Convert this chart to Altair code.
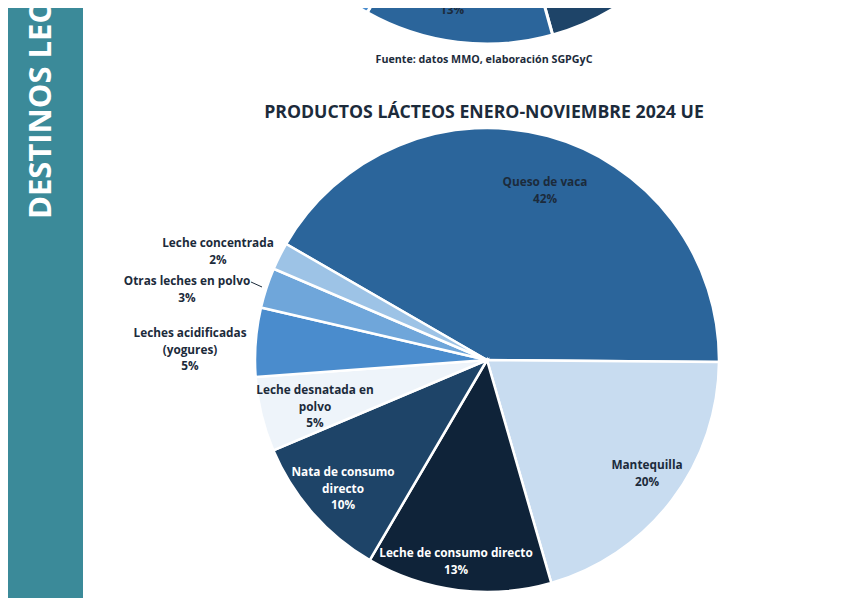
import math
import altair as alt
import pandas as pd

# ---------------- data ----------------
categories = [
    "Queso de vaca", "Mantequilla", "Leche de consumo directo",
    "Nata de consumo directo", "Leche desnatada en polvo",
    "Leches acidificadas (yogures)", "Otras leches en polvo", "Leche concentrada",
]
shares = [41.8, 20.4, 12.9, 10.2, 5.2, 4.8, 2.8, 1.9]
pct_labels = ["42%", "20%", "13%", "10%", "5%", "5%", "3%", "2%"]
label_text = [
    "Queso de vaca", "Mantequilla", "Leche de consumo directo",
    "Nata de consumo\ndirecto", "Leche desnatada en\npolvo",
    "Leches acidificadas\n(yogures)", "Otras leches en polvo", "Leche concentrada",
]

# partially visible pie from the previous chart (top of page)
top_slices = ["a", "b", "c"]
top_shares = [10.0, 12.5, 6.0]
top_pct = ["", "13%", ""]

title_text = "PRODUCTOS LÁCTEOS ENERO-NOVIEMBRE 2024 UE"
source_text = "Fuente: datos MMO, elaboración SGPGyC"
side_text = "DESTINOS LECHE"

# ---------------- styles / layout ----------------
W, H = 842, 590
FONT = "Open Sans"
DARK = "#1c2b3b"
TEAL = "#3b8a99"
slice_colors = ["#2b659b", "#c8dcf0", "#0f2339", "#1e4468",
                "#eef4fa", "#4a8ccd", "#6fa6da", "#9dc3e6"]
text_colors = [DARK, DARK, "white", "white", DARK, DARK, DARK, DARK]
top_colors = ["#1e4468", "#2b659b", "#4a8ccd"]

# label anchor positions (chart pixels, centre of first line)
label_pos = [(537, 174), (639, 457), (448, 545), (335, 464),
             (307, 382), (182, 325), (179, 273), (210, 235)]

CX, CY, R = 479, 352, 232
START_DEG = 300.0
TOP_CX, TOP_CY, TOP_R = 479, -208, 244
TOP_START_DEG = 128.4

pie_df = pd.DataFrame({
    "cat": categories, "share": shares, "idx": list(range(len(categories))),
    "col": slice_colors,
})
lab_df = pd.DataFrame({
    "txt": [f"{t}\n{p}" for t, p in zip(label_text, pct_labels)],
    "lx": [p[0] for p in label_pos],
    "ly": [p[1] for p in label_pos],
    "tc": text_colors,
})
top_df = pd.DataFrame({"cat": top_slices, "share": top_shares,
                       "idx": list(range(len(top_slices))), "col": top_colors})

def rad(d):
    return d * math.pi / 180.0

# ---------------- layers ----------------
band = alt.Chart(pd.DataFrame({"k": [0]})).mark_rect(color=TEAL).encode(
    x=alt.value(0), x2=alt.value(75), y=alt.value(-10), y2=alt.value(H + 10)
)
side = alt.Chart(pd.DataFrame({"t": [side_text]})).mark_text(
    font=FONT, fontSize=31, fontWeight="bold", color="white",
    angle=270, align="left", baseline="middle",
).encode(text="t:N", x=alt.value(34), y=alt.value(211))

top_pie = alt.Chart(top_df).mark_arc(
    outerRadius=TOP_R, stroke="white", strokeWidth=3
).encode(
    theta=alt.Theta("share:Q", stack=True,
                    scale=alt.Scale(domain=[0, 100],
                                    range=[rad(TOP_START_DEG), rad(TOP_START_DEG) + 2 * math.pi])),
    color=alt.Color("col:N", scale=None),
    order=alt.Order("idx:Q"),
    x=alt.value(TOP_CX), y=alt.value(TOP_CY),
)
top_lab = alt.Chart(pd.DataFrame({"t": [top_pct[1]]})).mark_text(
    font=FONT, fontSize=11.8, fontWeight="bold", color=DARK
).encode(text="t:N", x=alt.value(444), y=alt.value(2))

src_top = alt.Chart(pd.DataFrame({"t": [source_text]})).mark_text(
    font=FONT, fontSize=10.7, fontWeight="bold", color=DARK
).encode(text="t:N", x=alt.value(476), y=alt.value(52))

title = alt.Chart(pd.DataFrame({"t": [title_text]})).mark_text(
    font=FONT, fontSize=17.7, fontWeight="bold", color=DARK
).encode(text="t:N", x=alt.value(476), y=alt.value(105))

pie = alt.Chart(pie_df).mark_arc(
    outerRadius=R, stroke="white", strokeWidth=2.5
).encode(
    theta=alt.Theta("share:Q", stack=True,
                    scale=alt.Scale(domain=[0, 100],
                                    range=[rad(START_DEG), rad(START_DEG) + 2 * math.pi])),
    color=alt.Color("col:N", scale=None),
    order=alt.Order("idx:Q"),
    x=alt.value(CX), y=alt.value(CY),
)

labels = alt.Chart(lab_df).mark_text(
    font=FONT, fontSize=11.8, fontWeight="bold", lineBreak="\n", lineHeight=16.5,
    align="center", baseline="middle",
).encode(
    text="txt:N",
    x=alt.X("lx:Q", scale=None),
    y=alt.Y("ly:Q", scale=None),
    color=alt.Color("tc:N", scale=None),
)

leader = alt.Chart(pd.DataFrame({"k": [0]})).mark_rule(color=DARK, strokeWidth=1).encode(
    x=alt.value(243), y=alt.value(274), x2=alt.value(254), y2=alt.value(279)
)

src_bot = alt.Chart(pd.DataFrame({"t": [source_text]})).mark_text(
    font=FONT, fontSize=10.7, fontWeight="bold", color=DARK
).encode(text="t:N", x=alt.value(476), y=alt.value(596))

chart = alt.layer(
    band, side, top_pie, top_lab, src_top, title, pie, labels, leader, src_bot
).resolve_scale(theta="independent").properties(
    width=W, height=H, padding=0, autosize=alt.AutoSizeParams(type="none")
).configure_view(stroke=None)

chart.save("out.html", embed_options={"renderer": "svg", "actions": False})
